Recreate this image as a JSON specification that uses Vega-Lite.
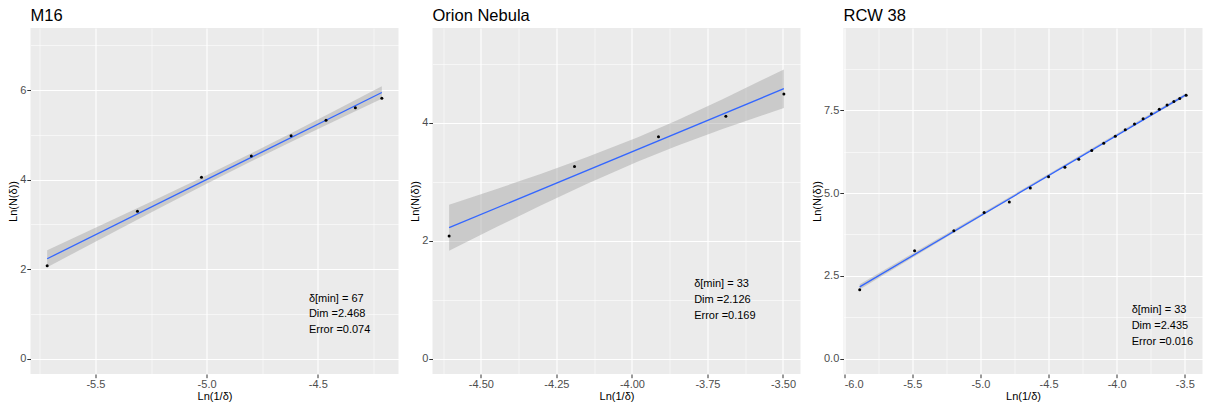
{
  "$schema": "https://vega.github.io/schema/vega-lite/v6.json",
  "padding": {"left": 7.5, "top": 7, "right": 0, "bottom": 0},
  "background": "white",
  "spacing": 11,
  "datasets": {
    "m16_pts": [
      {"x": -5.717, "y": 2.078}, {"x": -5.311, "y": 3.294}, {"x": -5.023, "y": 4.054}, {"x": -4.799, "y": 4.53},
      {"x": -4.62, "y": 4.98}, {"x": -4.463, "y": 5.33}, {"x": -4.331, "y": 5.61}, {"x": -4.212, "y": 5.82}
    ],
    "m16_fit": [{"x": -5.717, "y": 2.235}, {"x": -4.212, "y": 5.949}],
    "m16_band": [
      {"x": -5.717, "lo": 2.045, "hi": 2.425}, {"x": -5.5, "lo": 2.616, "hi": 2.926},
      {"x": -5.25, "lo": 3.267, "hi": 3.509}, {"x": -5.0, "lo": 3.909, "hi": 4.101},
      {"x": -4.81, "lo": 4.385, "hi": 4.563}, {"x": -4.6, "lo": 4.895, "hi": 5.089},
      {"x": -4.4, "lo": 5.368, "hi": 5.602}, {"x": -4.212, "lo": 5.807, "hi": 6.091}
    ],
    "m16_note": [{"x": -4.54, "y": 1.34, "label": "δ[min] = 67\nDim =2.468\nError =0.074"}],
    "orion_pts": [
      {"x": -4.605, "y": 2.079}, {"x": -4.19, "y": 3.258}, {"x": -3.912, "y": 3.761},
      {"x": -3.689, "y": 4.11}, {"x": -3.497, "y": 4.488}
    ],
    "orion_fit": [{"x": -4.605, "y": 2.22}, {"x": -3.497, "y": 4.576}],
    "orion_band": [
      {"x": -4.605, "lo": 1.83, "hi": 2.61}, {"x": -4.45, "lo": 2.227, "hi": 2.873},
      {"x": -4.3, "lo": 2.601, "hi": 3.135}, {"x": -4.15, "lo": 2.962, "hi": 3.412},
      {"x": -3.98, "lo": 3.343, "hi": 3.755}, {"x": -3.85, "lo": 3.608, "hi": 4.042},
      {"x": -3.7, "lo": 3.891, "hi": 4.397}, {"x": -3.497, "lo": 4.249, "hi": 4.903}
    ],
    "orion_note": [{"x": -3.794, "y": 1.26, "label": "δ[min] = 33\nDim =2.126\nError =0.169"}],
    "rcw_pts": [
      {"x": -5.886, "y": 2.079}, {"x": -5.483, "y": 3.26}, {"x": -5.195, "y": 3.86}, {"x": -4.973, "y": 4.41},
      {"x": -4.788, "y": 4.73}, {"x": -4.634, "y": 5.155}, {"x": -4.5, "y": 5.49}, {"x": -4.38, "y": 5.78},
      {"x": -4.278, "y": 6.02}, {"x": -4.183, "y": 6.28}, {"x": -4.095, "y": 6.5}, {"x": -4.01, "y": 6.71},
      {"x": -3.937, "y": 6.91}, {"x": -3.869, "y": 7.08}, {"x": -3.806, "y": 7.24}, {"x": -3.745, "y": 7.39},
      {"x": -3.687, "y": 7.53}, {"x": -3.63, "y": 7.655}, {"x": -3.58, "y": 7.76}, {"x": -3.537, "y": 7.85},
      {"x": -3.49, "y": 7.95}
    ],
    "rcw_fit": [{"x": -5.886, "y": 2.17}, {"x": -3.49, "y": 7.97}],
    "rcw_band": [
      {"x": -5.886, "lo": 2.09, "hi": 2.25}, {"x": -5.0, "lo": 4.287, "hi": 4.367},
      {"x": -4.4, "lo": 5.758, "hi": 5.818}, {"x": -3.9, "lo": 6.971, "hi": 7.041},
      {"x": -3.49, "lo": 7.92, "hi": 8.02}
    ],
    "rcw_note": [{"x": -3.89, "y": 1.46, "label": "δ[min] = 33\nDim =2.435\nError =0.016"}]
  },
  "hconcat": [
    {
      "title": {"text": "M16", "anchor": "start", "frame": "group"},
      "width": 368,
      "height": 346,
      "encoding": {
        "x": {
          "field": "x", "type": "quantitative",
          "scale": {"domain": [-5.792, -4.137], "nice": false, "zero": false},
          "axis": {
            "title": "Ln(1/δ)",
            "values": [-5.75, -5.5, -5.25, -5, -4.75, -4.5, -4.25],
            "labelExpr": "datum.value*2 == round(datum.value*2) ? replace(format(datum.value, '.1f'), '−', '-') : ''",
            "gridWidth": {"condition": {"test": "datum.value*2 == round(datum.value*2)", "value": 1.1}, "value": 0.55},
            "tickOpacity": {"condition": {"test": "datum.value*2 == round(datum.value*2)", "value": 1}, "value": 0}
          }
        },
        "y": {
          "field": "y", "type": "quantitative",
          "scale": {"domain": [-0.34, 7.39], "nice": false, "zero": false},
          "axis": {
            "title": "Ln(N(δ))",
            "values": [0, 1, 2, 3, 4, 5, 6, 7],
            "labelExpr": "datum.value % 2 == 0 ? format(datum.value, 'd') : ''",
            "gridWidth": {"condition": {"test": "datum.value % 2 == 0", "value": 1.1}, "value": 0.55},
            "tickOpacity": {"condition": {"test": "datum.value % 2 == 0", "value": 1}, "value": 0}
          }
        }
      },
      "layer": [
        {
          "data": {"name": "m16_band"},
          "mark": {"type": "area", "color": "#999999", "opacity": 0.4},
          "encoding": {
            "y": {
              "field": "lo", "type": "quantitative",
              "scale": {"domain": [-0.34, 7.39], "nice": false, "zero": false},
              "axis": {
                "title": "Ln(N(δ))",
                "values": [0, 1, 2, 3, 4, 5, 6, 7],
                "labelExpr": "datum.value % 2 == 0 ? format(datum.value, 'd') : ''",
                "gridWidth": {"condition": {"test": "datum.value % 2 == 0", "value": 1.1}, "value": 0.55},
                "tickOpacity": {"condition": {"test": "datum.value % 2 == 0", "value": 1}, "value": 0}
              }
            },
            "y2": {"field": "hi"}
          }
        },
        {"data": {"name": "m16_fit"}, "mark": {"type": "line", "color": "#3366FF", "strokeWidth": 1.3}},
        {"data": {"name": "m16_pts"}, "mark": {"type": "circle", "color": "black", "size": 9, "opacity": 1}},
        {"data": {"name": "m16_note"}, "mark": {"type": "text", "align": "left", "baseline": "middle", "lineBreak": "\n", "lineHeight": 15.7, "fontSize": 11, "color": "black"}, "encoding": {"text": {"field": "label", "type": "nominal"}}}
      ]
    },
    {
      "title": {"text": "Orion Nebula", "anchor": "start", "frame": "group"},
      "width": 368,
      "height": 346,
      "encoding": {
        "x": {
          "field": "x", "type": "quantitative",
          "scale": {"domain": [-4.66, -3.442], "nice": false, "zero": false},
          "axis": {
            "title": "Ln(1/δ)",
            "values": [-4.625, -4.5, -4.375, -4.25, -4.125, -4, -3.875, -3.75, -3.625, -3.5],
            "labelExpr": "datum.value*4 == round(datum.value*4) ? replace(format(datum.value, '.2f'), '−', '-') : ''",
            "gridWidth": {"condition": {"test": "datum.value*4 == round(datum.value*4)", "value": 1.1}, "value": 0.55},
            "tickOpacity": {"condition": {"test": "datum.value*4 == round(datum.value*4)", "value": 1}, "value": 0}
          }
        },
        "y": {
          "field": "y", "type": "quantitative",
          "scale": {"domain": [-0.26, 5.605], "nice": false, "zero": false},
          "axis": {
            "title": "Ln(N(δ))",
            "values": [0, 1, 2, 3, 4, 5],
            "labelExpr": "datum.value % 2 == 0 ? format(datum.value, 'd') : ''",
            "gridWidth": {"condition": {"test": "datum.value % 2 == 0", "value": 1.1}, "value": 0.55},
            "tickOpacity": {"condition": {"test": "datum.value % 2 == 0", "value": 1}, "value": 0}
          }
        }
      },
      "layer": [
        {
          "data": {"name": "orion_band"},
          "mark": {"type": "area", "color": "#999999", "opacity": 0.4},
          "encoding": {
            "y": {
              "field": "lo", "type": "quantitative",
              "scale": {"domain": [-0.26, 5.605], "nice": false, "zero": false},
              "axis": {
                "title": "Ln(N(δ))",
                "values": [0, 1, 2, 3, 4, 5],
                "labelExpr": "datum.value % 2 == 0 ? format(datum.value, 'd') : ''",
                "gridWidth": {"condition": {"test": "datum.value % 2 == 0", "value": 1.1}, "value": 0.55},
                "tickOpacity": {"condition": {"test": "datum.value % 2 == 0", "value": 1}, "value": 0}
              }
            },
            "y2": {"field": "hi"}
          }
        },
        {"data": {"name": "orion_fit"}, "mark": {"type": "line", "color": "#3366FF", "strokeWidth": 1.3}},
        {"data": {"name": "orion_pts"}, "mark": {"type": "circle", "color": "black", "size": 9, "opacity": 1}},
        {"data": {"name": "orion_note"}, "mark": {"type": "text", "align": "left", "baseline": "middle", "lineBreak": "\n", "lineHeight": 15.7, "fontSize": 11, "color": "black"}, "encoding": {"text": {"field": "label", "type": "nominal"}}}
      ]
    },
    {
      "title": {"text": "RCW 38", "anchor": "start", "frame": "group"},
      "width": 359,
      "height": 346,
      "encoding": {
        "x": {
          "field": "x", "type": "quantitative",
          "scale": {"domain": [-6.005, -3.37], "nice": false, "zero": false},
          "axis": {
            "title": "Ln(1/δ)",
            "values": [-6, -5.75, -5.5, -5.25, -5, -4.75, -4.5, -4.25, -4, -3.75, -3.5],
            "labelExpr": "datum.value*2 == round(datum.value*2) ? replace(format(datum.value, '.1f'), '−', '-') : ''",
            "gridWidth": {"condition": {"test": "datum.value*2 == round(datum.value*2)", "value": 1.1}, "value": 0.55},
            "tickOpacity": {"condition": {"test": "datum.value*2 == round(datum.value*2)", "value": 1}, "value": 0}
          }
        },
        "y": {
          "field": "y", "type": "quantitative",
          "scale": {"domain": [-0.46, 9.98], "nice": false, "zero": false},
          "axis": {
            "title": "Ln(N(δ))",
            "values": [0, 1.25, 2.5, 3.75, 5, 6.25, 7.5, 8.75],
            "labelExpr": "datum.value % 2.5 == 0 ? format(datum.value, '.1f') : ''",
            "gridWidth": {"condition": {"test": "datum.value % 2.5 == 0", "value": 1.1}, "value": 0.55},
            "tickOpacity": {"condition": {"test": "datum.value % 2.5 == 0", "value": 1}, "value": 0}
          }
        }
      },
      "layer": [
        {
          "data": {"name": "rcw_band"},
          "mark": {"type": "area", "color": "#999999", "opacity": 0.4},
          "encoding": {
            "y": {
              "field": "lo", "type": "quantitative",
              "scale": {"domain": [-0.46, 9.98], "nice": false, "zero": false},
              "axis": {
                "title": "Ln(N(δ))",
                "values": [0, 1.25, 2.5, 3.75, 5, 6.25, 7.5, 8.75],
                "labelExpr": "datum.value % 2.5 == 0 ? format(datum.value, '.1f') : ''",
                "gridWidth": {"condition": {"test": "datum.value % 2.5 == 0", "value": 1.1}, "value": 0.55},
                "tickOpacity": {"condition": {"test": "datum.value % 2.5 == 0", "value": 1}, "value": 0}
              }
            },
            "y2": {"field": "hi"}
          }
        },
        {"data": {"name": "rcw_fit"}, "mark": {"type": "line", "color": "#3366FF", "strokeWidth": 1.3}},
        {"data": {"name": "rcw_pts"}, "mark": {"type": "circle", "color": "black", "size": 9, "opacity": 1}},
        {"data": {"name": "rcw_note"}, "mark": {"type": "text", "align": "left", "baseline": "middle", "lineBreak": "\n", "lineHeight": 15.7, "fontSize": 11, "color": "black"}, "encoding": {"text": {"field": "label", "type": "nominal"}}}
      ]
    }
  ],
  "config": {
    "font": "Liberation Sans",
    "view": {"fill": "#EBEBEB", "stroke": null},
    "axis": {
      "domain": false,
      "tickColor": "#333333",
      "tickSize": 3.7,
      "tickWidth": 1,
      "labelColor": "#4D4D4D",
      "labelFontSize": 11,
      "labelPadding": 1,
      "titleFontSize": 11,
      "titleFontWeight": "normal",
      "titleColor": "#000000",
      "titlePadding": 1,
      "gridColor": "#FFFFFF"
    },
    "title": {"fontSize": 16.5, "fontWeight": "normal", "color": "#000000", "offset": 4}
  }
}
